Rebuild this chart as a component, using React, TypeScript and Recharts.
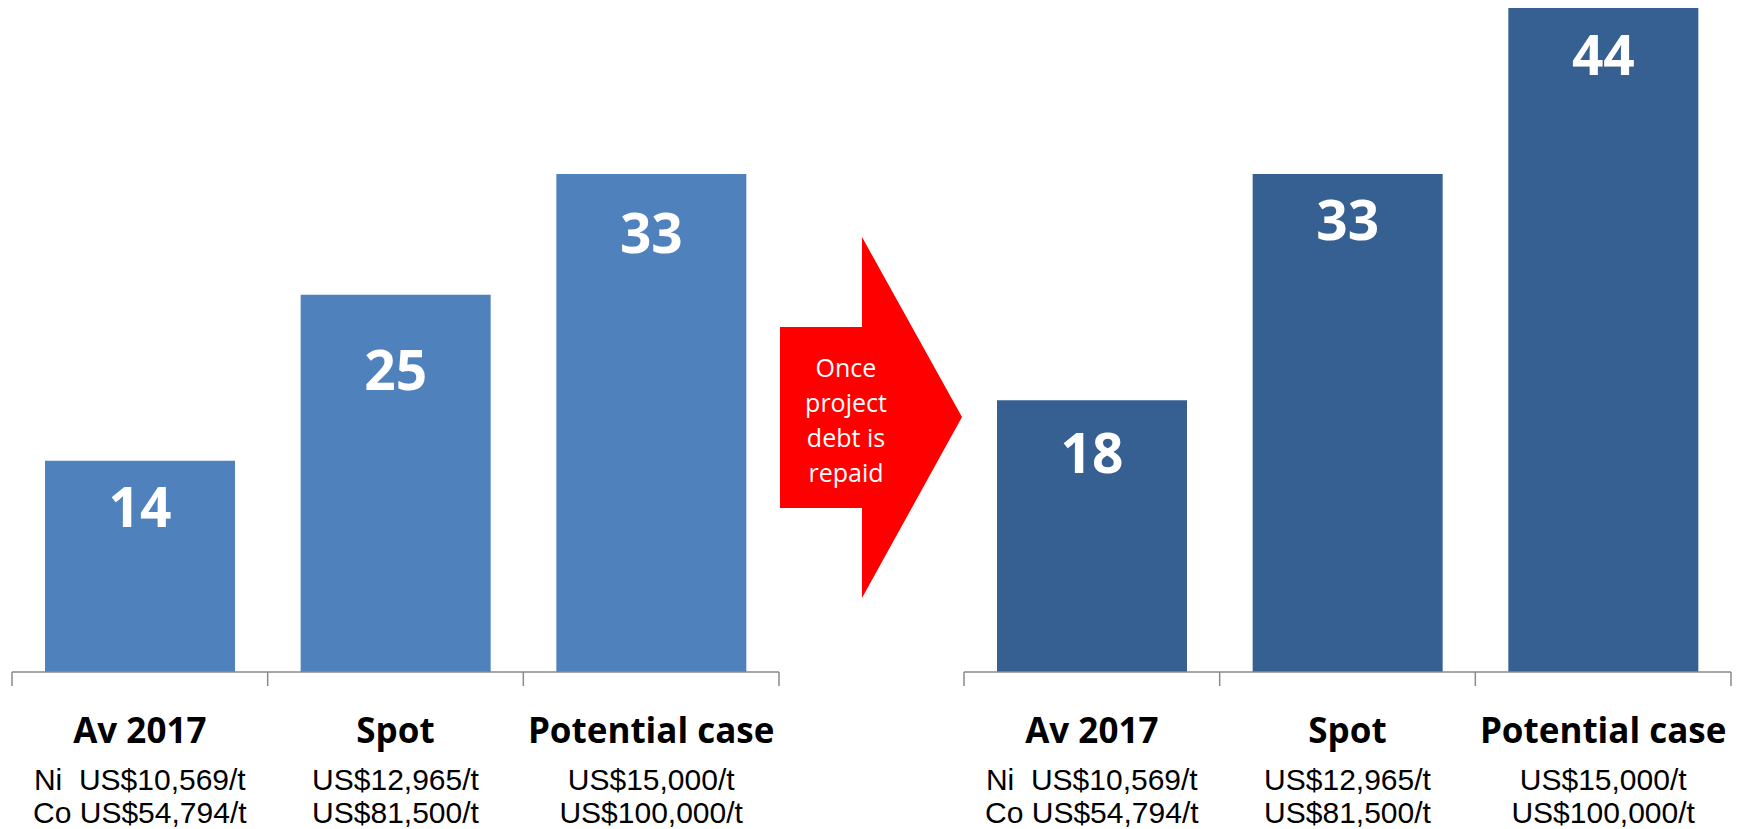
import React from 'react';
import { BarChart, Bar, XAxis, YAxis, LabelList } from 'recharts';

const categories = ['Av 2017', 'Spot', 'Potential case'];
const niPrices = ['Ni  US$10,569/t', 'US$12,965/t', 'US$15,000/t'];
const coPrices = ['Co US$54,794/t', 'US$81,500/t', 'US$100,000/t'];
const currentValues = [14, 25, 33];
const afterDebtValues = [18, 33, 44];
const arrowLines = ['Once', 'project', 'debt is', 'repaid'];

// label baseline distance below bar top (placed by hand in the original slide)
const currentLabelDy = [66, 95, 79];
const afterDebtLabelDy = [73, 66, 67];

const CHART_W = 790;
const CHART_H = 829;
const MARGIN = { top: 8, right: 11, left: 12, bottom: 0 };
const PLOT_W = CHART_W - MARGIN.left - MARGIN.right;
const BAND = PLOT_W / categories.length;
const AXIS_COLOR = '#8a8a8a';

const CategoryTick = (props: any) => {
  const { x, y, payload, index } = props;
  const half = BAND / 2;
  return (
    <g>
      <line x1={x - half} x2={x - half} y1={y} y2={y + 14} stroke={AXIS_COLOR} strokeWidth={1.5} />
      {index === categories.length - 1 && (
        <line x1={x + half} x2={x + half} y1={y} y2={y + 14} stroke={AXIS_COLOR} strokeWidth={1.5} />
      )}
      <text x={x} y={y + 71} textAnchor="middle" fontFamily="'Open Sans'" fontWeight={700} fontSize={35} fill="#000">
        {payload.value}
      </text>
      <text x={x} y={y + 118} textAnchor="middle" fontFamily="'Liberation Sans', Arial" fontSize={30} fill="#000" style={{ whiteSpace: 'pre' }}>
        {niPrices[index]}
      </text>
      <text x={x} y={y + 151} textAnchor="middle" fontFamily="'Liberation Sans', Arial" fontSize={30} fill="#000" style={{ whiteSpace: 'pre' }}>
        {coPrices[index]}
      </text>
    </g>
  );
};

const makeValueLabel = (dys: number[]) => (props: any) => {
  const { x, y, width, value, index } = props;
  return (
    <text x={x + width / 2} y={y + dys[index]} textAnchor="middle" fontFamily="'Open Sans'" fontWeight={700} fontSize={55} fill="#fff">
      {value}
    </text>
  );
};

function CaseChart({ values, color, labelDy }: { values: number[]; color: string; labelDy: number[] }) {
  const data = categories.map((name, i) => ({ name, value: values[i] }));
  return (
    <BarChart width={CHART_W} height={CHART_H} data={data} margin={MARGIN}>
      <XAxis
        dataKey="name"
        height={157}
        interval={0}
        tickSize={0}
        tickMargin={0}
        tickLine={false}
        axisLine={{ stroke: AXIS_COLOR, strokeWidth: 1.5 }}
        tick={<CategoryTick />}
      />
      <YAxis hide domain={[0, 44]} />
      <Bar dataKey="value" fill={color} barSize={190} isAnimationActive={false}>
        <LabelList dataKey="value" content={makeValueLabel(labelDy)} />
      </Bar>
    </BarChart>
  );
}

export default function App() {
  return (
    <div style={{ position: 'absolute', left: 0, top: 0, width: 1739, height: 829, background: '#fff', overflow: 'hidden' }}>
      <div style={{ position: 'absolute', left: 0, top: 0 }}>
        <CaseChart values={currentValues} color="#4f81bd" labelDy={currentLabelDy} />
      </div>
      <div style={{ position: 'absolute', left: 952, top: 0 }}>
        <CaseChart values={afterDebtValues} color="#376092" labelDy={afterDebtLabelDy} />
      </div>
      <svg style={{ position: 'absolute', left: 0, top: 0 }} width={1739} height={829} pointerEvents="none">
        <polygon points="780,327 862,327 862,237 962,417 862,598 862,508 780,508" fill="#ff0000" />
        {arrowLines.map((line, i) => (
          <text key={line} x={846} y={377 + i * 35} textAnchor="middle" fontFamily="'Open Sans'" fontSize={25} fill="#fff">
            {line}
          </text>
        ))}
      </svg>
    </div>
  );
}
